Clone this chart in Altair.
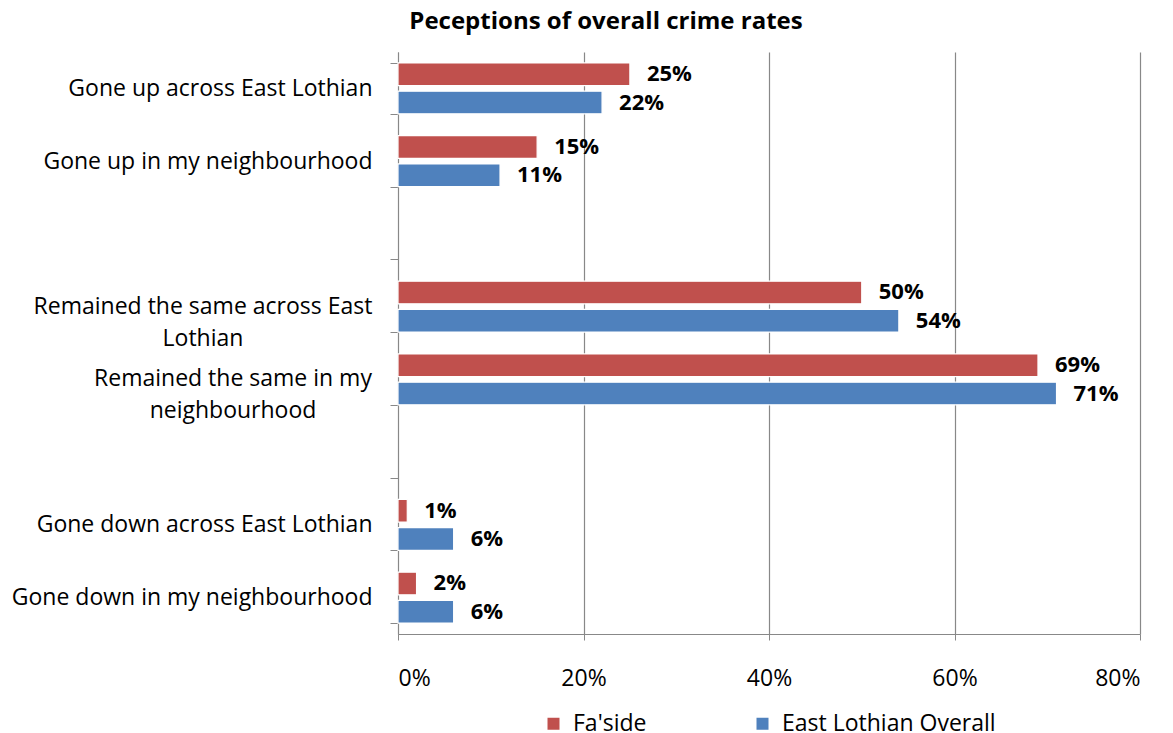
import altair as alt
import pandas as pd

categories = [
    "Gone up across East Lothian",
    "Gone up in my neighbourhood",
    " ",
    "Remained the same across East Lothian",
    "Remained the same in my neighbourhood",
    "  ",
    "Gone down across East Lothian",
    "Gone down in my neighbourhood",
]
series = ["Fa'side", "East Lothian Overall"]
faside = [25, 15, None, 50, 69, None, 1, 2]
el_overall = [22, 11, None, 54, 71, None, 6, 6]
colors = ["#C0504D", "#4F81BD"]
x_ticks = [0, 20, 40, 60, 80]

# wrapped (two-line) category labels, drawn centred like the original
wrapped_cats = ["Remained the same across East Lothian", "Remained the same in my neighbourhood"]
wrapped_text = ["Remained the same across East\nLothian", "Remained the same in my\nneighbourhood"]
wrapped_centre = [-195, -165]

rows = []
for c, a, b in zip(categories, faside, el_overall):
    if a is not None:
        rows.append({"cat": c, "series": series[0], "v": a})
        rows.append({"cat": c, "series": series[1], "v": b})
df = pd.DataFrame(rows)

FONT = "Open Sans"
GRAY = "#888888"

label_expr = (
    "indexof(" + str(wrapped_cats).replace('"', "'") + ", datum.value) >= 0 || "
    "trim(datum.value) == '' ? '' : datum.value"
)

y_scale = alt.Scale(domain=categories, paddingInner=0.3, paddingOuter=0.15)

y_enc = alt.Y(
    "cat:N",
    sort=categories,
    scale=y_scale,
    axis=alt.Axis(
        title=None,
        labelExpr=label_expr,
        labelFont=FONT,
        labelFontSize=23,
        labelColor="#000000",
        labelPadding=18,
        labelLimit=400,
        tickBand="extent",
        tickSize=8,
        tickColor=GRAY,
        domainColor=GRAY,
        grid=False,
    ),
)
x_enc = alt.X(
    "v:Q",
    scale=alt.Scale(domain=[0, 80], nice=False),
    axis=alt.Axis(
        title=None,
        values=x_ticks,
        labelExpr="datum.value + '%'",
        labelFont=FONT,
        labelFontSize=23,
        labelColor="#000000",
        labelPadding=27,
        tickSize=6,
        tickColor=GRAY,
        domainColor=GRAY,
        grid=True,
        gridColor=GRAY,
        gridWidth=1.2,
    ),
)
yoff = alt.YOffset(
    "series:N",
    sort=series,
    scale=alt.Scale(domain=series, paddingInner=0.2, paddingOuter=0),
)

base = alt.Chart(df).encode(y=y_enc, yOffset=yoff)

bars = base.mark_bar(stroke="white", strokeWidth=1.2).encode(
    x=x_enc,
    color=alt.Color(
        "series:N",
        sort=series,
        scale=alt.Scale(domain=series, range=colors),
        legend=alt.Legend(
            title=None,
            orient="none",
            legendX=144,
            legendY=660,
            direction="horizontal",
            symbolType="square",
            symbolSize=144,
            symbolStrokeWidth=0,
            labelFont=FONT,
            labelFontSize=23,
            labelColor="#000000",
            labelOffset=8,
            labelLimit=400,
            columnPadding=104,
            padding=0,
        ),
    ),
)

labels = base.mark_text(
    align="left", baseline="middle", dx=17, font=FONT, fontSize=22,
    fontWeight="bold", color="#000000"
).transform_calculate(txt="datum.v + '%'").encode(
    x="v:Q", text="txt:N"
)

wrap_df = pd.DataFrame({"cat": wrapped_cats, "txt": wrapped_text, "xc": wrapped_centre})
wrapped = alt.Chart(wrap_df).mark_text(
    align="center", baseline="middle", font=FONT, fontSize=23,
    lineHeight=32, lineBreak="\n", color="#000000"
).encode(
    y=alt.Y("cat:N", sort=categories, scale=y_scale),
    x=alt.X("xc:Q", scale=None),
    text="txt:N",
)

chart = (
    alt.layer(bars, labels, wrapped)
    .properties(
        width=742,
        height=582,
        autosize=alt.AutoSizeParams(type="none"),
        padding={"left": 390, "top": 44, "right": 20, "bottom": 105},
        title=alt.Title(
            "Peceptions of overall crime rates",
            font=FONT,
            fontSize=24,
            fontWeight="bold",
            color="#000000",
            offset=7,
            dx=-163,
        ),
    )
    .configure_view(stroke=None)
)

chart.save("out.html", embed_options={"renderer": "svg", "actions": False})
